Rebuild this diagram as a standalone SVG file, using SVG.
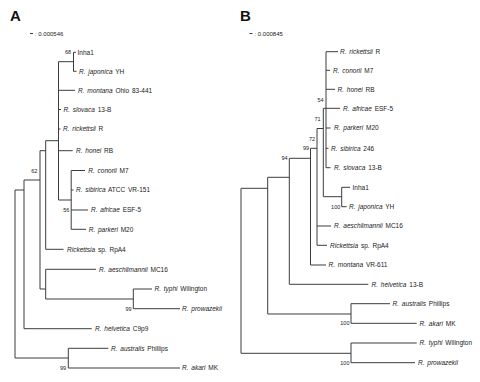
<svg xmlns="http://www.w3.org/2000/svg" width="480" height="382" viewBox="0 0 480 382">
<style>
text{font-family:"Liberation Sans",Arial,sans-serif;fill:#222}
.lf{font-size:6.5px;word-spacing:1px}
.i{font-style:italic}
.bs{font-size:5.5px;text-anchor:end}
.sc{font-size:6px}
.hd{font-size:15px;font-weight:bold;fill:#111}
.tr{fill:none;stroke:#3c3c3c;stroke-width:1}
</style>
<rect width="480" height="382" fill="#fff"/>
<g id="panelA-title"><text class="hd" x="10" y="21">A</text></g>
<g id="panelA-scale"><path class="tr" d="M30,33.5 H33"/><text class="sc" x="35" y="35.5">: 0.000546</text></g>
<g id="panelB-title"><text class="hd" x="240" y="21">B</text></g>
<g id="panelB-scale"><path class="tr" d="M249.5,33.5 H252.5"/><text class="sc" x="254.5" y="35.5">: 0.000845</text></g>

<g id="connectors">
<path class="tr" d="M73.5,52.3 V71.3 M73.5,52.3 H76 M73.5,71.3 H76.5 M58.5,61.7 H73.5 M58.5,61.7 V200 M58.5,90.3 H75 M58.5,109.5 H61 M58.5,129 H60.5 M58.5,150.7 H72.7 M58.5,200 H71.2 M71.2,170.5 V229.3 M71.2,170.5 H85 M71.2,190 H73.5 M71.2,210 H88 M71.2,229.3 H86 M45.7,140.7 H58.5 M45.7,140.7 V249.3 M45.7,249.3 H63.5 M40,150.7 H45.7 M40,150.7 V289 M40,289 H45.7 M45.7,269.3 V299 M45.7,269.3 H96 M45.7,299 H133.3 M133.3,289 V308.7 M133.3,289 H152 M133.3,308.7 H180 M24,180 H40 M24,180 V328.7 M24,328.7 H91.7 M15,190 H24 M15,190 V358 M15,358 H68.3 M68.3,348.3 V368 M68.3,348.3 H108.3 M68.3,368 H180"/>
<path class="tr" d="M326,51.7 V167.7 M326,51.7 H338 M326,70.3 H330 M326,89.3 H335 M326,128 H330.5 M326,148.3 H328.5 M326,167.7 H330.5 M323.3,108.3 H340 M323.3,108.3 V196.7 M323.3,196.7 H341.7 M341.7,187.3 V206.7 M341.7,187.3 H350 M341.7,206.7 H346.7 M317,128.5 H323.3 M317,128.5 V245.3 M317,226 H331 M317,245.3 H327 M310.5,148.3 H317 M310.5,148.3 V265 M310.5,265 H326 M289.3,158.3 H310.5 M289.3,158.3 V284.3 M289.3,284.3 H368.3 M267.7,177.3 H289.3 M267.7,177.3 V314 M267.7,314 H351 M351,303.7 V323.3 M351,303.7 H390 M351,323.3 H416.7 M241,188.3 H267.7 M241,188.3 V353.3 M241,353.3 H351 M351,343 V362.7 M351,343 H416.7 M351,362.7 H415"/>
</g>

<g id="bootstrapA">
<text class="bs" x="71" y="54.3">68</text>
<text class="bs" x="69.3" y="212">56</text>
<text class="bs" x="37.3" y="173">62</text>
<text class="bs" x="131.7" y="310.7">99</text>
<text class="bs" x="66" y="370">99</text>
</g>
<g id="bootstrapB">
<text class="bs" x="323.5" y="102">54</text>
<text class="bs" x="320.7" y="121.3">71</text>
<text class="bs" x="315" y="141.3">72</text>
<text class="bs" x="309" y="150.3">99</text>
<text class="bs" x="287.5" y="160.3">94</text>
<text class="bs" x="340.3" y="208.7">100</text>
<text class="bs" x="349.5" y="325.3">100</text>
<text class="bs" x="349.5" y="364.7">100</text>
</g>

<g id="A-inha1"><text class="lf" x="77.5" y="54.6">Inha1</text></g>
<g id="A-japonica"><text class="lf" x="79" y="73.6"><tspan class="i">R. japonica</tspan> YH</text></g>
<g id="A-montana"><text class="lf" x="78" y="92.6"><tspan class="i">R. montana</tspan> Ohio 83-441</text></g>
<g id="A-slovaca"><text class="lf" x="63.5" y="111.8"><tspan class="i">R. slovaca</tspan> 13-B</text></g>
<g id="A-rickettsii"><text class="lf" x="63" y="131.3"><tspan class="i">R. rickettsii</tspan> R</text></g>
<g id="A-honei"><text class="lf" x="76" y="153"><tspan class="i">R. honei</tspan> RB</text></g>
<g id="A-conorii"><text class="lf" x="88.3" y="172.8"><tspan class="i">R. conorii</tspan> M7</text></g>
<g id="A-sibirica"><text class="lf" x="76" y="192.3"><tspan class="i">R. sibirica</tspan> ATCC VR-151</text></g>
<g id="A-africae"><text class="lf" x="91" y="212.3"><tspan class="i">R. africae</tspan> ESF-5</text></g>
<g id="A-parkeri"><text class="lf" x="88.7" y="231.6"><tspan class="i">R. parkeri</tspan> M20</text></g>
<g id="A-rpa4"><text class="lf" x="67" y="251.6"><tspan class="i">Rickettsia</tspan> sp. RpA4</text></g>
<g id="A-aeschlimannii"><text class="lf" x="99" y="271.6"><tspan class="i">R. aeschlimannii</tspan> MC16</text></g>
<g id="A-typhi"><text class="lf" x="154.5" y="291.3"><tspan class="i">R. typhi</tspan> Wilington</text></g>
<g id="A-prowazekii"><text class="lf" x="182" y="311"><tspan class="i">R. prowazekii</tspan></text></g>
<g id="A-helvetica"><text class="lf" x="95" y="331"><tspan class="i">R. helvetica</tspan> C9p9</text></g>
<g id="A-australis"><text class="lf" x="111" y="350.6"><tspan class="i">R. australis</tspan> Phillips</text></g>
<g id="A-akari"><text class="lf" x="182" y="370.3"><tspan class="i">R. akari</tspan> MK</text></g>

<g id="B-rickettsii"><text class="lf" x="340" y="54"><tspan class="i">R. rickettsii</tspan> R</text></g>
<g id="B-conorii"><text class="lf" x="333" y="72.6"><tspan class="i">R. conorii</tspan> M7</text></g>
<g id="B-honei"><text class="lf" x="337.5" y="91.6"><tspan class="i">R. honei</tspan> RB</text></g>
<g id="B-africae"><text class="lf" x="343" y="110.6"><tspan class="i">R. africae</tspan> ESF-5</text></g>
<g id="B-parkeri"><text class="lf" x="334" y="130.3"><tspan class="i">R. parkeri</tspan> M20</text></g>
<g id="B-sibirica"><text class="lf" x="331" y="150.6"><tspan class="i">R. sibirica</tspan> 246</text></g>
<g id="B-slovaca"><text class="lf" x="334" y="170"><tspan class="i">R. slovaca</tspan> 13-B</text></g>
<g id="B-inha1"><text class="lf" x="352.5" y="189.6">Inha1</text></g>
<g id="B-japonica"><text class="lf" x="349" y="209"><tspan class="i">R. japonica</tspan> YH</text></g>
<g id="B-aeschlimannii"><text class="lf" x="334" y="228.3"><tspan class="i">R. aeschlimannii</tspan> MC16</text></g>
<g id="B-rpa4"><text class="lf" x="330" y="247.6"><tspan class="i">Rickettsia</tspan> sp. RpA4</text></g>
<g id="B-montana"><text class="lf" x="328.5" y="267.3"><tspan class="i">R. montana</tspan> VR-611</text></g>
<g id="B-helvetica"><text class="lf" x="371.5" y="286.6"><tspan class="i">R. helvetica</tspan> 13-B</text></g>
<g id="B-australis"><text class="lf" x="392.5" y="306"><tspan class="i">R. australis</tspan> Phillips</text></g>
<g id="B-akari"><text class="lf" x="419.5" y="325.6"><tspan class="i">R. akari</tspan> MK</text></g>
<g id="B-typhi"><text class="lf" x="419.5" y="345.3"><tspan class="i">R. typhi</tspan> Wilington</text></g>
<g id="B-prowazekii"><text class="lf" x="418" y="365"><tspan class="i">R. prowazekii</tspan></text></g>
</svg>
